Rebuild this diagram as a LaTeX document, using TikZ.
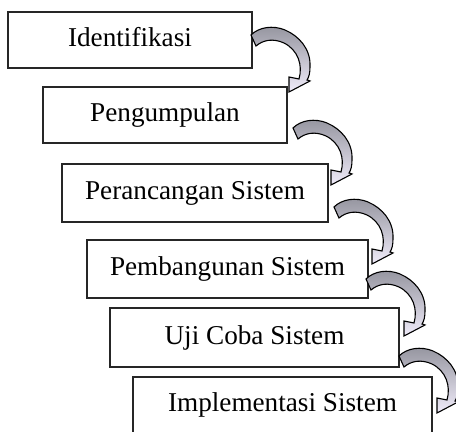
\documentclass[tikz,border=0pt]{standalone}
\usepackage{fontspec}
\setmainfont{Liberation Serif}
\definecolor{arrdark}{RGB}{148,148,158}
\definecolor{arrlight}{RGB}{240,236,250}
\tikzset{
  stagebox/.style={draw=black!85, line width=0.65pt, inner sep=0pt,
    text height=10pt, text depth=3pt, font=\fontsize{13.6}{16}\selectfont},
  arrowfill/.style={draw=black, line width=0.55pt, top color=arrdark, bottom color=arrlight},
  carrow/.pic={
    \path[arrowfill] (0,0)
      .. controls (8,-8) and (22,-10) .. (34,-5)
      .. controls (48,1) and (60,14) .. (59,32)
      .. controls (59,38) and (58,42) .. (56,45)
      -- (59,46) -- (38,57) -- (38,42) -- (48,44)
      .. controls (52,30) and (47,15) .. (33,8)
      .. controls (22,3) and (12,5) .. (5,11)
      -- cycle;
  }
}
\begin{document}
\begin{tikzpicture}[x=0.5pt,y=-0.5pt]
\useasboundingbox (0,0) rectangle (456,432);
\node[stagebox, minimum width=122pt, minimum height=28pt] (n1) at (130,40) {Identifikasi};
\node[stagebox, minimum width=122pt, minimum height=28pt] (n2) at (165,115) {Pengumpulan};
\node[stagebox, minimum width=133pt, minimum height=29pt] (n3) at (195,193) {Perancangan Sistem};
\node[stagebox, minimum width=140.5pt, minimum height=29pt] (n4) at (227.5,269) {Pembangunan Sistem};
\node[stagebox, minimum width=144.5pt, minimum height=29.5pt] (n5) at (254.5,337.5) {Uji Coba Sistem};
\node[stagebox, minimum width=149.5pt, minimum height=28pt] (n6) at (282.5,405) {Implementasi Sistem};
\pic at (251,35) {carrow};
\pic at (293,128) {carrow};
\pic at (334,207) {carrow};
\pic at (366,279) {carrow};
\pic at (399,356) {carrow};
\end{tikzpicture}
\end{document}
